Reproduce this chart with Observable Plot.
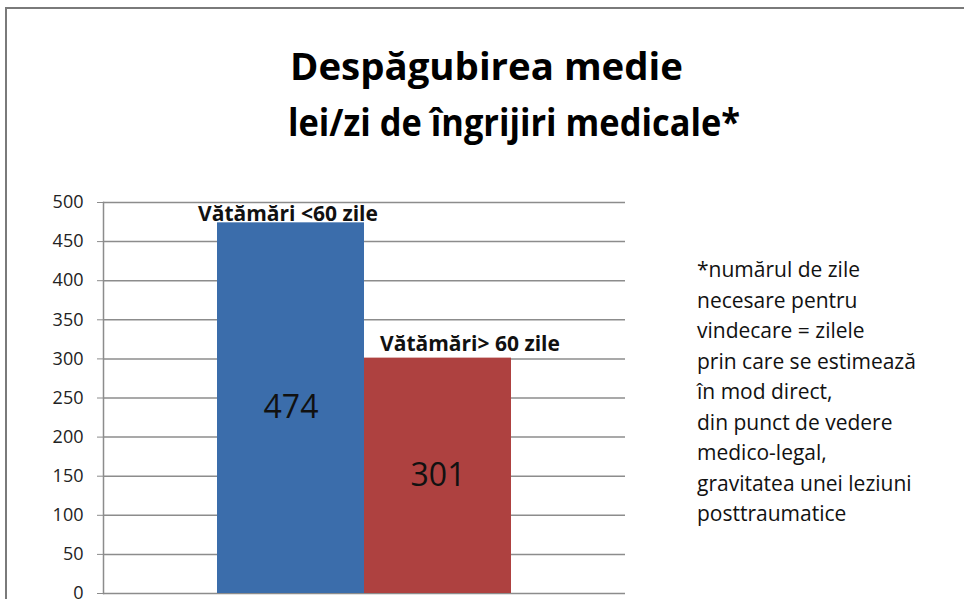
<!DOCTYPE html>
<html>
<head>
<meta charset="utf-8">
<script src="https://cdn.jsdelivr.net/npm/d3@7"></script>
<script src="https://cdn.jsdelivr.net/npm/@observablehq/plot@0.6"></script>
<style>
  html, body { margin: 0; padding: 0; background: #fff; }
  #wrap { position: relative; width: 964px; height: 599px; overflow: hidden; background: #fff; }
  #border { position: absolute; left: 5px; top: 7px; width: 1100px; height: 800px;
            border-left: 2px solid #7a7a7a; border-top: 2px solid #7a7a7a; }
  .title { position: absolute; font-family: "Open Sans", sans-serif;
           font-weight: 700; font-size: 37px; line-height: 36px; color: #000; white-space: nowrap;
           transform-origin: 0 50%; }
  #note { position: absolute; left: 697px; top: 254px; font-family: "Open Sans", sans-serif;
          font-size: 21px; line-height: 30.5px; color: #111; white-space: nowrap; }
  #chart { position: absolute; left: 0; top: 160px; }
</style>
</head>
<body>
<div id="wrap">
  <div id="border"></div>
  <div class="title" id="t1"></div>
  <div class="title" id="t2"></div>
  <div id="note"></div>
  <div id="chart"></div>
</div>
<script>
const titleLines = ["Despăgubirea medie", "lei/zi de îngrijiri medicale*"];
const categories = ["Vătămări <60 zile", "Vătămări> 60 zile"];
const values = [474, 301];
const colors = ["#3b6dab", "#ae4140"];
const yTicks = [0, 50, 100, 150, 200, 250, 300, 350, 400, 450, 500];
const noteLines = [
  "*numărul de zile",
  "necesare pentru",
  "vindecare = zilele",
  "prin care se estimează",
  "în mod direct,",
  "din punct de vedere",
  "medico-legal,",
  "gravitatea unei leziuni",
  "posttraumatice"
];

// title lines: fit each line to the span it occupies in the reference
function placeTitle(id, text, left, right, top) {
  const el = document.getElementById(id);
  el.textContent = text;
  el.style.left = left + "px";
  el.style.top = top + "px";
  const w = el.getBoundingClientRect().width;
  el.style.transform = `scaleX(${(right - left) / w})`;
}
placeTitle("t1", titleLines[0], 290, 683, 48);
placeTitle("t2", titleLines[1], 288, 740, 104);

const note = document.getElementById("note");
noteLines.forEach(l => { const d = document.createElement("div"); d.textContent = l; note.appendChild(d); });

const data = categories.map((c, i) => ({cat: c, value: values[i], color: colors[i], idx: i}));

const chart = Plot.plot({
  width: 964,
  height: 439,
  marginLeft: 103,
  marginRight: 339,
  marginTop: 42,
  marginBottom: 6,
  style: {fontFamily: "Open Sans, sans-serif", background: "transparent", overflow: "visible"},
  x: {type: "band", domain: categories, paddingInner: 0, paddingOuter: 0.764, axis: null},
  y: {domain: [0, 500], ticks: yTicks, label: null},
  marks: [
    Plot.ruleY(yTicks, {stroke: "#8c8c8c", strokeWidth: 1.5}),
    Plot.axisY({ticks: yTicks, tickSize: 6, tickPadding: 14, stroke: "#8c8c8c", fontSize: 18, fill: "#222", label: null, tickFormat: d => String(d)}),
    Plot.frame({anchor: "left", stroke: "#8c8c8c", strokeWidth: 1.5}),
    Plot.barY(data, {x: "cat", y: "value", fill: "color"}),
    Plot.text(data.filter(d => d.idx === 0), {x: "cat", y: "value", text: "cat", fontWeight: "bold", fontSize: 21, fill: "#111", lineAnchor: "bottom", dy: -2, dx: -3}),
    Plot.text(data.filter(d => d.idx === 1), {x: "cat", y: "value", text: "cat", fontWeight: "bold", fontSize: 21, fill: "#111", lineAnchor: "bottom", dy: -7, dx: 32}),
    Plot.text(data, {x: "cat", y: d => d.value / 2, text: d => String(d.value), fontSize: 32, fill: "#111"})
  ]
});
document.getElementById("chart").appendChild(chart);
</script>
</body>
</html>
